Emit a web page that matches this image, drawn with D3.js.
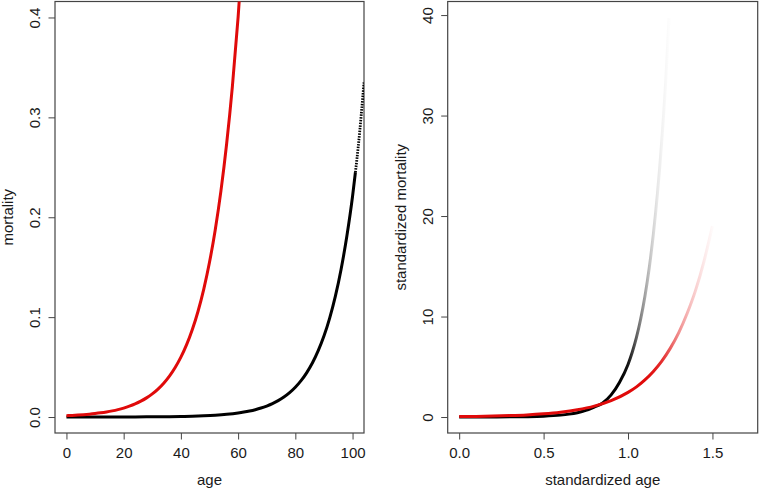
<!DOCTYPE html>
<html>
<head>
<meta charset="utf-8">
<script src="https://cdn.jsdelivr.net/npm/d3@7"></script>
<style>
  html, body { margin: 0; padding: 0; background: #fff; }
  svg { display: block; }
  text { font-family: "Liberation Sans", Arial, sans-serif; fill: #1a1a1a; }
</style>
</head>
<body>
<svg id="chart" width="759" height="489"></svg>
<script>
// ---------- data ----------
// left panel: mortality by age
const ageRed   = [0,2,4,6,8,10,12,14,16,18,20,22,24,26,28,30,32,34,36,38,40,42,44,46,48,50,52,54,56,58,60,62];
const mortRed  = [0.00134,0.00162,0.00196,0.00237,0.00287,0.00347,0.00419,0.00507,0.00613,0.00741,
                  0.00896,0.01084,0.0131,0.01585,0.01916,0.02317,0.02802,0.03388,0.04097,0.04954,
                  0.0599,0.07243,0.08759,0.1059,0.1281,0.1549,0.1873,0.2264,0.2738,0.3311,0.4004,0.4841];
const ageBlack  = [0,4,8,12,16,20,24,28,32,36,40,44,48,52,56,60,62,64,66,68,70,72,74,76,78,80,82,84,86,88,90,92,94,96,98,100,101,102,104];
const mortBlack = [0.00001,0.000015,0.000022,0.000033,0.00005,0.000074,0.00011,0.000164,0.000245,0.000366,
                   0.000546,0.000815,0.00122,0.00181,0.0027,0.00403,0.00493,0.00602,0.00735,0.00898,
                   0.011,0.0134,0.0164,0.02,0.0244,0.0298,0.0364,0.0445,0.0543,0.0664,
                   0.081,0.099,0.121,0.148,0.181,0.221,0.245,0.271,0.335];
// right panel: standardized mortality by standardized age (with fading opacity)
const stdAgeBlack  = [0,0.1,0.2,0.3,0.4,0.5,0.6,0.65,0.7,0.75,0.8,0.85,0.9,0.95,1.0,1.025,1.05,1.075,1.1,1.125,1.15,1.175,1.2,1.225,1.243];
const stdMortBlack = [0.0013,0.003,0.0068,0.0157,0.036,0.0824,0.189,0.287,0.434,0.656,0.994,1.4,2.2,3.46,5.23,6.44,7.92,9.75,12.0,14.76,18.17,22.35,27.5,33.9,39.7];
const stdAlphaBlack= [1,1,1,1,1,1,1,1,1,1,1,1,1,1,0.92,0.78,0.62,0.48,0.36,0.25,0.16,0.09,0.05,0.025,0.01];
const stdAgeRed   = [0,0.1,0.2,0.3,0.4,0.5,0.6,0.7,0.8,0.9,1.0,1.05,1.1,1.15,1.2,1.25,1.3,1.35,1.4,1.45,1.5];
const stdMortRed  = [0.04,0.06,0.09,0.14,0.21,0.32,0.48,0.72,1.08,1.63,2.45,3.0,3.69,4.53,5.56,6.83,8.38,10.3,12.6,15.5,19.0];
const stdAlphaRed = [1,1,1,1,1,1,1,1,1,1,1,1,1,0.95,0.85,0.66,0.46,0.31,0.19,0.09,0.02];

const xTicksLeft  = [0,20,40,60,80,100];
const yTicksLeft  = [0,0.1,0.2,0.3,0.4];
const xTicksRight = [0,0.5,1.0,1.5];
const yTicksRight = [0,10,20,30,40];

const RED = "#e00a0a", BLACK = "#000";
const svg = d3.select("#chart");
const plotTop = 1.5, plotBottom = 433;

function panel(opts) {
  const g = svg.append("g");
  const x = d3.scaleLinear().domain(opts.xdom).range([opts.left, opts.right]);
  const y = d3.scaleLinear().domain(opts.ydom).range([plotBottom, plotTop]);
  const clipId = "clip" + opts.id;
  svg.append("clipPath").attr("id", clipId).append("rect")
    .attr("x", opts.left).attr("y", plotTop).attr("width", opts.right - opts.left).attr("height", plotBottom - plotTop);

  const xa = g.append("g").attr("transform", `translate(0,${plotBottom})`)
    .call(d3.axisBottom(x).tickValues(opts.xticks).tickFormat(opts.xfmt).tickSize(6.5).tickSizeOuter(0));
  xa.select(".domain").remove();
  xa.selectAll("line").attr("stroke", "#444");
  xa.selectAll("text").attr("y", 24.5).attr("dy", 0).attr("font-size", 15)
    .style("font-family", "Liberation Sans, Arial, sans-serif").attr("fill", "#1a1a1a");

  const ya = g.append("g").attr("transform", `translate(${opts.left},0)`)
    .call(d3.axisLeft(y).tickValues(opts.yticks).tickFormat(opts.yfmt).tickSize(6.5).tickSizeOuter(0));
  ya.select(".domain").remove();
  ya.selectAll("line").attr("stroke", "#444");
  ya.selectAll("text").attr("x", 0).attr("dy", 0)
    .attr("transform", "translate(-15,0) rotate(-90)")
    .attr("text-anchor", "middle").attr("font-size", 15)
    .style("font-family", "Liberation Sans, Arial, sans-serif").attr("fill", "#1a1a1a");

  g.append("rect").attr("x", opts.left).attr("y", plotTop)
    .attr("width", opts.right - opts.left).attr("height", plotBottom - plotTop)
    .attr("fill", "none").attr("stroke", "#444").attr("stroke-width", 1.2);

  g.append("text").attr("x", (opts.left + opts.right) / 2).attr("y", 484.5)
    .attr("text-anchor", "middle").attr("font-size", 15).text(opts.xlab);
  g.append("text").attr("transform", `translate(${opts.left - 41.7},${(plotTop + plotBottom) / 2}) rotate(-90)`)
    .attr("text-anchor", "middle").attr("font-size", 15).text(opts.ylab);

  const plot = g.append("g").attr("clip-path", `url(#${clipId})`);
  return { x, y, plot };
}

// ---------- left panel ----------
const L = panel({ id: "L", left: 55, right: 364, xdom: [-4, 104], ydom: [-0.016, 0.416],
  xticks: xTicksLeft, yticks: yTicksLeft, xfmt: d3.format("d"), yfmt: d3.format(".1f"),
  xlab: "age", ylab: "mortality" });

const lineL = d3.line().x(d => L.x(d[0])).y(d => L.y(d[1])).curve(d3.curveMonotoneX);
const blackPts = ageBlack.map((a, i) => [a, mortBlack[i]]);
L.plot.append("path").datum(blackPts.filter(d => d[0] <= 101))
  .attr("d", lineL).attr("fill", "none").attr("stroke", BLACK).attr("stroke-width", 3);
L.plot.append("path").datum(blackPts.filter(d => d[0] >= 101))
  .attr("d", lineL).attr("fill", "none").attr("stroke", BLACK).attr("stroke-width", 2.8)
  .attr("stroke-dasharray", "1.5,1.2");
L.plot.append("path").datum(ageRed.map((a, i) => [a, mortRed[i]]))
  .attr("d", lineL).attr("fill", "none").attr("stroke", RED).attr("stroke-width", 3);

// ---------- right panel ----------
const R = panel({ id: "R", left: 447.7, right: 757.7, xdom: [-0.068, 1.768], ydom: [-1.59, 41.35],
  xticks: xTicksRight, yticks: yTicksRight, xfmt: d3.format(".1f"), yfmt: d3.format("d"),
  xlab: "standardized age", ylab: "standardized mortality" });

const lineR = d3.line().x(d => R.x(d[0])).y(d => R.y(d[1])).curve(d3.curveMonotoneX);
const defs = svg.append("defs");
function fadeGrad(id, xs, alphas, color) {
  const x0 = R.x(xs[0]), x1 = R.x(xs[xs.length - 1]);
  const gr = defs.append("linearGradient").attr("id", id).attr("gradientUnits", "userSpaceOnUse")
    .attr("x1", x0).attr("x2", x1).attr("y1", 0).attr("y2", 0);
  xs.forEach((s, i) => {
    gr.append("stop").attr("offset", (R.x(s) - x0) / (x1 - x0))
      .attr("stop-color", color).attr("stop-opacity", alphas[i]);
  });
}
fadeGrad("gBlack", stdAgeBlack, stdAlphaBlack, BLACK);
fadeGrad("gRed", stdAgeRed, stdAlphaRed, RED);

R.plot.append("path").datum(stdAgeBlack.map((s, i) => [s, stdMortBlack[i]]))
  .attr("d", lineR).attr("fill", "none").attr("stroke", "url(#gBlack)").attr("stroke-width", 3);
R.plot.append("path").datum(stdAgeRed.map((s, i) => [s, stdMortRed[i]]))
  .attr("d", lineR).attr("fill", "none").attr("stroke", "url(#gRed)").attr("stroke-width", 3);
</script>
</body>
</html>
